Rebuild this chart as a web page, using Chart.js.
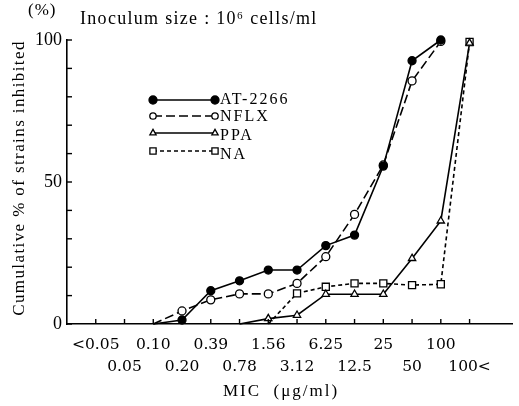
<!DOCTYPE html>
<html>
<head>
<meta charset="utf-8">
<script src="https://cdn.jsdelivr.net/npm/chart.js@4.4.1/dist/chart.umd.min.js"></script>
<style>
  html, body { margin: 0; padding: 0; background: #fff; }
  #wrap { width: 519px; height: 406px; }
</style>
</head>
<body>
<div id="wrap"><canvas id="micChart" width="519" height="406"></canvas></div>
<script>
// ── Data (cumulative % of strains inhibited per MIC class) ─────
const categories = ['<0.05', '0.05', '0.10', '0.20', '0.39', '0.78', '1.56', '3.12', '6.25', '12.5', '25', '50', '100', '100<'];
const at2266 = [null, null, 0, 1.4, 11.7, 15.2, 19, 19, 27.6, 31.3, 55.6, 92.7, 100, null];
const nflx   = [null, null, 0, 4.6, 8.5, 10.6, 10.6, 14.3, 23.7, 38.6, 56, 85.6, 99.5, null];
const ppa    = [null, null, null, null, null, 0, 1.9, 3.1, 10.5, 10.5, 10.5, 23.1, 36.3, 98.9];
const na     = [null, null, null, null, null, null, 0, 10.8, 13.1, 14.3, 14.3, 13.7, 14, 99.3];
const yLabelTicks = [0, 50, 100];

const SERIF = '"Liberation Serif", "Times New Roman", serif';

// points from the category index; the curve's starting zero has no marker
function toPoints(vals) {
  return vals.map((v, i) => ({ x: i, y: v })).filter(p => p.y !== null);
}
function radii(vals, r) {
  return toPoints(vals).map((p, i) => i === 0 ? 0 : r);
}

function series(label, vals, opts) {
  return Object.assign({
    label,
    data: toPoints(vals),
    borderColor: '#000',
    borderWidth: 1.6,
    pointBorderColor: '#000',
    pointBorderWidth: 1.3,
    pointBackgroundColor: '#fff',
    pointHoverRadius: 0,
    tension: 0,
    clip: false
  }, opts);
}

// ── Custom drawing: inward ticks, legend box, texts ───────────
const decorPlugin = {
  id: 'decor',
  afterDraw(chart) {
    const { ctx, scales: { x, y } } = chart;
    ctx.save();
    ctx.strokeStyle = '#000';
    ctx.lineWidth = 1.4;

    // inward tick marks
    y.ticks.forEach(t => {
      const py = y.getPixelForValue(t.value);
      ctx.beginPath(); ctx.moveTo(y.right, py); ctx.lineTo(y.right + 5, py); ctx.stroke();
    });
    x.ticks.forEach(t => {
      const px = x.getPixelForValue(t.value);
      ctx.beginPath(); ctx.moveTo(px, x.top); ctx.lineTo(px, x.top - 5); ctx.stroke();
    });

    // legend
    const rowsY = [100, 116, 133, 151];
    const textDy = [0, 1, 3, 4];
    chart.data.datasets.forEach((ds, i) => {
      const yy = rowsY[i];
      ctx.save();
      ctx.lineWidth = ds.borderWidth;
      ctx.setLineDash(ds.borderDash || []);
      ctx.beginPath(); ctx.moveTo(153, yy); ctx.lineTo(215, yy); ctx.stroke();
      ctx.restore();
      ctx.fillStyle = ds.pointBackgroundColor;
      ctx.lineWidth = ds.pointBorderWidth;
      const r = ds.legendRadius;
      [153, 215].forEach(px => {
        Chart.helpers.drawPoint(ctx, { pointStyle: ds.pointStyle, radius: r, rotation: 0, borderWidth: ds.pointBorderWidth }, px, yy);
      });
      ctx.fillStyle = '#000';
      ctx.font = '16px ' + SERIF;
      ctx.letterSpacing = '2px';
      ctx.textBaseline = 'middle';
      ctx.textAlign = 'left';
      ctx.fillText(ds.label, 220, yy + textDy[i]);
    });

    // header texts
    ctx.fillStyle = '#000';
    ctx.textBaseline = 'alphabetic';
    ctx.font = '17px ' + SERIF;
    ctx.letterSpacing = '1px';
    ctx.fillText('(%)', 28, 15);
    ctx.font = '18px ' + SERIF;
    ctx.letterSpacing = '1.3px';
    ctx.fillText('Inoculum size : 10⁶ cells/ml', 80, 24);

    // x axis title
    ctx.font = '17px ' + SERIF;
    ctx.textAlign = 'center';
    ctx.textBaseline = 'middle';
    ctx.letterSpacing = '2px';
    ctx.fillText('MIC  (μg/ml)', 281, 392);

    // y axis title
    ctx.translate(20, 178);
    ctx.rotate(-Math.PI / 2);
    ctx.letterSpacing = '1.4px';
    ctx.fillText('Cumulative % of strains inhibited', 0, 0);
    ctx.restore();
  }
};

new Chart(document.getElementById('micChart'), {
  type: 'line',
  data: {
    datasets: [
      series('AT-2266', at2266, { pointStyle: 'circle', pointRadius: radii(at2266, 4), pointBackgroundColor: '#000', legendRadius: 4 }),
      series('NFLX', nflx, { pointStyle: 'circle', pointRadius: radii(nflx, 4), borderDash: [9, 4], legendRadius: 3.2 }),
      series('PPA', ppa, { pointStyle: 'triangle', pointRadius: radii(ppa, 4.2), legendRadius: 3.6 }),
      series('NA', na, { pointStyle: 'rect', pointRadius: radii(na, 5), borderDash: [4, 3], legendRadius: 4.4 })
    ]
  },
  options: {
    responsive: false,
    animation: false,
    layout: { padding: { top: 40, right: 2, left: 0, bottom: 0 } },
    plugins: {
      legend: { display: false },
      tooltip: { enabled: false }
    },
    scales: {
      x: {
        type: 'linear',
        min: -1,
        max: 14.5,
        grid: { display: false, drawTicks: false },
        border: { display: true, color: '#000', width: 1.6 },
        afterBuildTicks: s => { s.ticks = categories.map((c, i) => ({ value: i })); },
        afterFit: s => { s.height = 82; },
        ticks: {
          autoSkip: false,
          maxRotation: 0,
          minRotation: 0,
          padding: 10,
          color: '#000',
          font: { family: '"DejaVu Serif", serif', size: 15.5, lineHeight: 1.42 },
          callback: (v, i) => i % 2 === 0 ? [categories[i], ''] : ['', categories[i]]
        }
      },
      y: {
        min: 0,
        max: 100,
        grid: { display: false, drawTicks: false },
        border: { display: true, color: '#000', width: 1.6 },
        afterFit: s => { s.width = 67; },
        ticks: {
          stepSize: 10,
          padding: 5,
          color: '#000',
          font: { family: SERIF, size: 18 },
          callback: v => yLabelTicks.includes(v) ? v : ''
        }
      }
    }
  },
  plugins: [decorPlugin]
});
</script>
</body>
</html>
